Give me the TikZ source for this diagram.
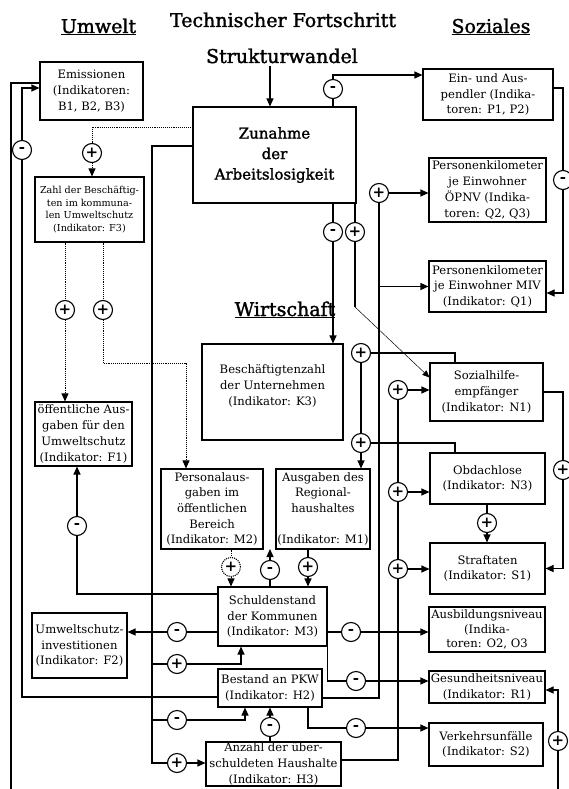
\documentclass[tikz,border=0pt]{standalone}
\usepackage{fontspec}
\setmainfont{DejaVu Serif}
\newfontfamily\semifam[BoldFont={DejaVu Serif},BoldFeatures={FakeBold=1.6}]{DejaVu Serif}
\usetikzlibrary{arrows.meta}
\newcommand\bodyf{\fontsize{11.6}{15.7}\selectfont}
\newcommand\smallf{\fontsize{9.6}{12.6}\selectfont}
\newcommand\headf{\semifam\bfseries\fontsize{19}{21}\selectfont}
\newcommand\zunf{\semifam\bfseries\fontsize{15}{20.5}\selectfont}
\begin{document}
\begin{tikzpicture}[x=1pt,y=-1pt,
  box/.style={draw, line width=1.1pt, align=center, inner sep=0.5pt, font=\bodyf},
  sgn/.style={circle, draw, fill=white, minimum size=19pt, inner sep=0pt, line width=1.1pt, font=\bfseries\fontsize{15}{15}\selectfont},
  ln/.style={line width=1.1pt},
  ar/.style={ln, -{Triangle[length=8pt,width=7pt]}},
  dl/.style={line width=0.9pt, densely dotted},
  dar/.style={dl, -{Triangle[length=8pt,width=7pt]}},
  head/.style={font=\headf, inner sep=0pt, anchor=base}]
\useasboundingbox (0,0) rectangle (568,789);

% headings
\node[head] (umw) at (98.5,33) {\underline{Umwelt}};
\node[head] (tech) at (283,27) {Technischer Fortschritt};
\node[head] (soz) at (491,33) {\underline{Soziales}};
\node[head] (struk) at (282,63) {Strukturwandel};
\node[head] (wirt) at (285,316) {\underline{Wirtschaft}};

% boxes
\node[box, minimum width=103pt, minimum height=58pt] (emis) at (91.5,91) {Emissionen\\(Indikatoren:\\B1, B2, B3)};
\node[box, font=\smallf, minimum width=109pt, minimum height=65pt] (zahl) at (89.5,209.5) {Zahl der Beschäftig-\\ten im kommuna-\\len Umweltschutz\\(Indikator: F3)};
\node[box, font=\zunf, minimum width=163pt, minimum height=96pt] (zun) at (274.5,155) {Zunahme\\der\\Arbeitslosigkeit};
\node[box, minimum width=130pt, minimum height=51pt] (ein) at (488,94.5) {Ein- und Aus-\\pendler (Indika-\\toren: P1, P2)};
\node[box, minimum width=117pt, minimum height=64pt] (oepnv) at (487.5,190) {Personenkilometer\\je Einwohner\\ÖPNV (Indika-\\toren: Q2, Q3)};
\node[box, minimum width=117pt, minimum height=51pt] (miv) at (487.5,286.5) {Personenkilometer\\je Einwohner MIV\\(Indikator: Q1)};
\node[box, minimum width=113pt, minimum height=58pt] (sozh) at (486.5,392) {Sozialhilfe-\\empfänger\\(Indikator: N1)};
\node[box, minimum width=115pt, minimum height=51pt] (obd) at (487.5,478.5) {Obdachlose\\(Indikator: N3)};
\node[box, minimum width=115pt, minimum height=51pt] (straf) at (487.5,568.5) {Straftaten\\(Indikator: S1)};
\node[box, font=\fontsize{11.6}{14.3}\selectfont, minimum width=116pt, minimum height=45pt] (ausb) at (487,629.5) {Ausbildungsniveau\\(Indika-\\toren: O2, O3};
\node[box, minimum width=116pt, minimum height=32pt] (ges) at (487,687) {Gesundheitsniveau\\(Indikator: R1)};
\node[box, minimum width=114pt, minimum height=43pt] (verk) at (486,744.5) {Verkehrsunfälle\\(Indikator: S2)};
\node[box, minimum width=135pt, minimum height=44pt] (anz) at (273.5,764) {Anzahl der über-\\schuldeten Haushalte\\(Indikator: H3)};
\node[box, minimum width=104pt, minimum height=38pt] (pkw) at (270,688) {Bestand an PKW\\(Indikator: H2)};
\node[box, minimum width=109pt, minimum height=59pt] (schuld) at (272.5,616.5) {Schuldenstand\\der Kommunen\\(Indikator: M3)};
\node[box, minimum width=95pt, minimum height=65pt] (umwi) at (79.5,645.5) {Umweltschutz-\\investitionen\\(Indikator: F2)};
\node[box, minimum width=102pt, minimum height=80pt] (pers) at (212,509) {Personalaus-\\gaben im\\öffentlichen\\Bereich\\(Indikator: M2)};
\node[box, minimum width=94pt, minimum height=80pt] (ausg) at (323,509) {Ausgaben des\\Regional-\\haushaltes\\[15.7pt](Indikator: M1)};
\node[box, minimum width=97pt, minimum height=64pt] (oeff) at (83.5,434) {öffentliche Aus-\\gaben für den\\Umweltschutz\\(Indikator: F1)};
\node[box, minimum width=141pt, minimum height=96pt] (besch) at (272.5,392) {};
\node[font=\bodyf, align=center, inner sep=0pt] (beschT) at (272.5,386) {Beschäftigtenzahl\\der Unternehmen\\(Indikator: K3)};

% signs
\node[sgn] (sEm) at (22,150) {-};
\node[sgn] (sZ1) at (92,153) {+};
\node[sgn] (sF1) at (65,310) {+};
\node[sgn] (sF2) at (103,310) {+};
\node[sgn] (sOe) at (77,526) {-};
\node[sgn, densely dotted] (sPA) at (231,567) {+};
\node[sgn] (sSU) at (270,570) {-};
\node[sgn] (sAR) at (308,567) {+};
\node[sgn] (sEin) at (333,89) {-};
\node[sgn] (sZB) at (333,232) {-};
\node[sgn] (sZS) at (355,232) {+};
\node[sgn] (sPK) at (379,193) {+};
\node[sgn] (sP1) at (563,180) {-};
\node[sgn] (sSH1) at (361,353) {+};
\node[sgn] (sSH2) at (361,443) {+};
\node[sgn] (sA1) at (398,390) {+};
\node[sgn] (sA2) at (398,492) {+};
\node[sgn] (sA3) at (398,569) {+};
\node[sgn] (sP2) at (563,470) {+};
\node[sgn] (sOS) at (487,523) {+};
\node[sgn] (sAus) at (351,632) {-};
\node[sgn] (sGes) at (356,681) {-};
\node[sgn] (sVerk) at (356,728) {-};
\node[sgn] (sUmw) at (177,632) {-};
\node[sgn] (sL1) at (177,664) {+};
\node[sgn] (sL2) at (177,720) {-};
\node[sgn] (sL3) at (177,763) {+};
\node[sgn] (sAP) at (270,727) {-};
\node[sgn] (sBR) at (558,741) {+};

% free points / bends
\coordinate (eL) at (11,789);
\coordinate (eR) at (558,789);
\coordinate (t1) at (152,664);
\coordinate (t2) at (152,720);
\coordinate (t3) at (152,763);
\coordinate (dk) at (103,363);
\coordinate (up) at (270,549);
\coordinate (dg) at (355,307);
\coordinate (pk) at (379,698);
\coordinate (ak) at (398,760);

% Strukturwandel -> Zunahme
\draw[ar] ([xshift=-12pt,yshift=-3pt]struk.south) -- ([xshift=-4.5pt]zun.north);
% Zunahme -> Ein- und Auspendler
\draw[ln] (sEin |- zun.north) -- (sEin);
\draw[ar] (sEin) |- ([yshift=19.5pt]ein.west);
% Zunahme -> Zahl (dotted)
\draw[dl] ([yshift=28pt]zun.west) -| (sZ1);
\draw[dar] (sZ1) -- (sZ1 |- zahl.north);
% Zunahme -> trunk
\draw[ln] ([yshift=9pt]zun.west) -| (t3) -- (sL3);
\draw[ar] (sL3) -- (sL3 -| anz.west);
\draw[ln] (t1) -- (sL1);
\draw[ar] (sL1) -| ([xshift=-31.5pt]schuld.south);
\draw[ln] (t2) -- (sL2);
\draw[ar] (sL2) -| ([xshift=-25pt]pkw.south);
% Schulden -> Umweltschutzinvestitionen
\draw[ln] (schuld.west |- sUmw) -- (sUmw);
\draw[ar] (sUmw) -- (sUmw -| umwi.east);
% Schulden -> oeffentliche Ausgaben
\draw[ln] ([yshift=22.5pt]schuld.west) -| (sOe);
\draw[ar] (sOe) -- (sOe |- oeff.south);
% PKW -> Emissionen
\draw[ln] ([yshift=-9pt]pkw.west) -| (sEm);
\draw[ar] (sEm) |- ([yshift=3pt]emis.west);
% Emissionen -> off page
\draw[ln] ([yshift=8pt]emis.west) -| (eL);
% Zahl -> oeff, pers (dotted)
\draw[dl] (sF1 |- zahl.south) -- (sF1);
\draw[dar] (sF1) -- (sF1 |- oeff.north);
\draw[dl] (sF2 |- zahl.south) -- (sF2);
\draw[dar] (sF2) -- (dk) -| ([xshift=-26pt]pers.north);
% Personalausgaben -> Schulden
\draw[dl] (sPA |- pers.south) -- (sPA);
\draw[dar] (sPA) -- (sPA |- schuld.north);
% Schulden -> up
\draw[ln] (sSU |- schuld.north) -- (sSU);
\draw[ar] (sSU) -- (up);
% Ausgaben -> Schulden
\draw[ln] (sAR |- ausg.south) -- (sAR);
\draw[ar] (sAR) -- (sAR |- schuld.north);
% Zunahme -> Beschaeftigtenzahl
\draw[ln] (sZB |- zun.south) -- (sZB);
\draw[ar] (sZB) -- (sZB |- besch.north);
% Zunahme -> Sozialhilfe (thin)
\draw[ln] (sZS |- zun.south) -- (sZS);
\draw[ln] (sZS) -- (dg);
\draw[line width=0.5pt, -{Triangle[length=7pt,width=6pt]}] (dg) -- ([yshift=-15pt]sozh.north west);
% PKW -> OEPNV, MIV
\draw[ln] ([yshift=-10pt]pkw.east) -- (pk) -- (sPK);
\draw[ar] (sPK) -- (sPK -| oepnv.west);
\draw[ar] (sPK |- miv.west) -- (miv.west);
% Anzahl -> Sozialhilfe, Obdachlose, Straftaten
\draw[ln] ([yshift=4pt]anz.east) -- (ak) -- (sA3);
\draw[ln] (sA3) -- (sA2);
\draw[ln] (sA2) -- (sA1);
\draw[ar] (sA1) -- (sA1 -| sozh.west);
\draw[ar] (sA2) -- (sA2 -| obd.west);
\draw[ar] (sA3) -- (sA3 -| straf.west);
% Anzahl -> PKW
\draw[ln] (sAP |- anz.north) -- (sAP);
\draw[ar] (sAP) -- (sAP |- pkw.south);
% Schulden -> Ausbildung
\draw[ln] (schuld.east |- sAus) -- (sAus);
\draw[ar] (sAus) -- (sAus -| ausb.west);
% Schulden -> Gesundheit
\draw[ln] ([xshift=-0.5pt]schuld.south east) |- (sGes);
\draw[ar] (sGes) -- (sGes -| ges.west);
% PKW -> Verkehrsunfaelle
\draw[ln] ([xshift=38pt]pkw.south) |- (sVerk);
\draw[ar] (sVerk) -- (sVerk -| verk.west);
% Ein- und Auspendler -> MIV
\draw[ln] ([yshift=6.5pt]ein.east) -| (sP1);
\draw[ar] (sP1) |- ([yshift=-6.5pt]miv.east);
% Sozialhilfe -> Straftaten
\draw[ln] (sozh.east) -| (sP2);
\draw[ar] (sP2) |- (straf.east);
% Sozialhilfe, Obdachlose -> Ausgaben
\draw[ln] ([xshift=-31.5pt]sozh.north) |- (sSH1);
\draw[ln] (sSH1) -- (sSH2);
\draw[ln] ([xshift=-32.5pt]obd.north) |- (sSH2);
\draw[ar] (sSH2) -- (sSH2 |- ausg.north);
% Obdachlose -> Straftaten
\draw[ln] (sOS |- obd.south) -- (sOS);
\draw[ar] (sOS) -- (sOS |- straf.north);
% off page -> Gesundheit
\draw[ln] (eR) -- (sBR);
\draw[ar] (sBR) |- ([yshift=-3pt]ges.east);
\end{tikzpicture}
\end{document}
